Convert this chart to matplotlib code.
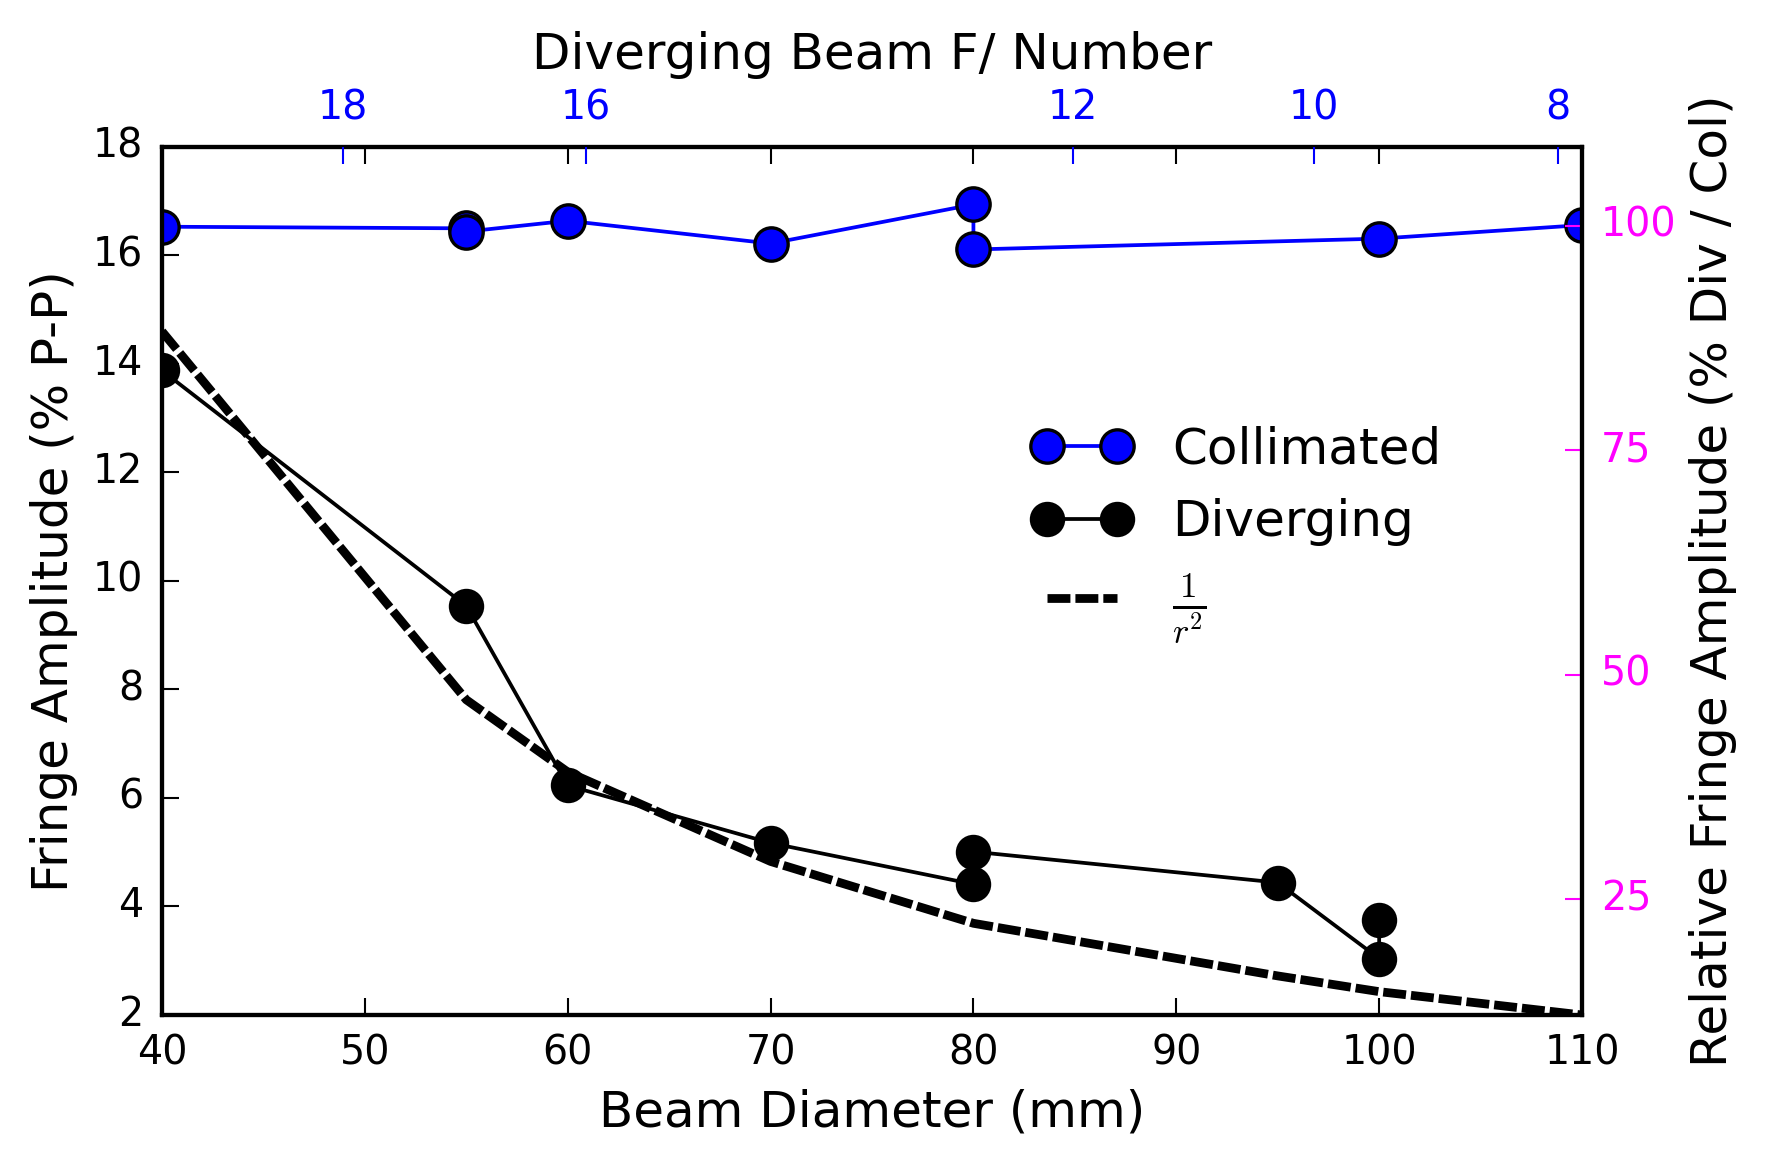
import matplotlib
matplotlib.use("Agg")
import matplotlib.pyplot as plt

# ---- data ----
col_diam = [40, 55, 55, 60, 70, 80, 80, 100, 110]
col_amp = [16.53, 16.50, 16.44, 16.64, 16.22, 16.94, 16.11, 16.31, 16.56]

div_diam = [40, 55, 60, 70, 80, 80, 95, 100, 100]
div_amp = [13.88, 9.54, 6.23, 5.17, 4.41, 5.01, 4.44, 3.04, 3.75]

invsq_diam = [40, 55, 60, 70, 80, 95, 100, 110]
invsq_amp = [14.60, 7.81, 6.48, 4.83, 3.69, 2.72, 2.43, 2.00]

x_ticks = [40, 50, 60, 70, 80, 90, 100, 110]
y_ticks = [2, 4, 6, 8, 10, 12, 14, 16, 18]
rel_ticks = [25, 50, 75, 100]
fnum_labels = [18, 16, 12, 10, 8]
fnum_diam = [48.9, 60.9, 84.9, 96.8, 108.8]
col_reference = 16.55  # amplitude that corresponds to 100 % on the right axis

plt.style.use("classic")
plt.rcParams["figure.facecolor"] = "white"
plt.rcParams["savefig.facecolor"] = "white"
plt.rcParams["font.family"] = ["DejaVu Sans"]
plt.rcParams["mathtext.fontset"] = "cm"
plt.rcParams["lines.scale_dashes"] = False

fig = plt.figure(figsize=(5.9, 3.9), dpi=300)
ax = fig.add_axes([0.0915, 0.1325, 0.8023, 0.7419])

ax.plot(col_diam, col_amp, "-o", color="blue", lw=0.9, ms=8,
        mfc="blue", mec="black", mew=0.8, label="Collimated")
ax.plot(div_diam, div_amp, "-o", color="black", lw=0.9, ms=8,
        mfc="black", mec="black", label="Diverging")
ax.plot(invsq_diam, invsq_amp, "--", color="black", lw=2.1,
        dashes=(5.5, 1.2), label=r"$\frac{1}{r^2}$")

ax.set_xlim(40, 110)
ax.set_ylim(2, 18)
ax.set_xticks(x_ticks)
ax.set_yticks(y_ticks)
ax.set_xlabel("Beam Diameter (mm)", fontsize=12, labelpad=3.5)
ax.set_ylabel("Fringe Amplitude (% P-P)", fontsize=12, labelpad=3.5)
for s in ax.spines.values():
    s.set_linewidth(0.9)

# right axis: relative amplitude
ax2 = ax.twinx()
ax2.set_ylim(2 * 100 / col_reference, 18 * 100 / col_reference)
ax2.set_yticks(rel_ticks)
ax2.tick_params(axis="y", colors="magenta", labelsize=9.5, length=4, pad=4.5,
                direction="in")
ax2.set_ylabel("Relative Fringe Amplitude (% Div / Col)", fontsize=12,
               color="black", labelpad=3)

# top axis: F-number
ax3 = ax.twiny()
ax3.set_xlim(40, 110)
ax3.set_xticks(fnum_diam)
ax3.set_xticklabels([str(v) for v in fnum_labels])
ax3.tick_params(axis="x", colors="blue", labelsize=9.5, length=4, pad=4.5,
                direction="in")
ax3.set_xlabel("Diverging Beam F/ Number", fontsize=12, labelpad=4.5)

ax.tick_params(axis="x", top=True, labeltop=False, bottom=True)
ax.tick_params(axis="y", left=True, right=False)
ax.tick_params(labelsize=9.5, length=4, pad=4.5, direction="in")
ax.minorticks_off()
ax2.minorticks_off()
ax3.minorticks_off()

ax.legend(loc="center", bbox_to_anchor=(0.757, 0.553), frameon=False,
          numpoints=2, fontsize=12, handlelength=2.0, handletextpad=0.8)

fig.savefig("out.png", dpi=300)
